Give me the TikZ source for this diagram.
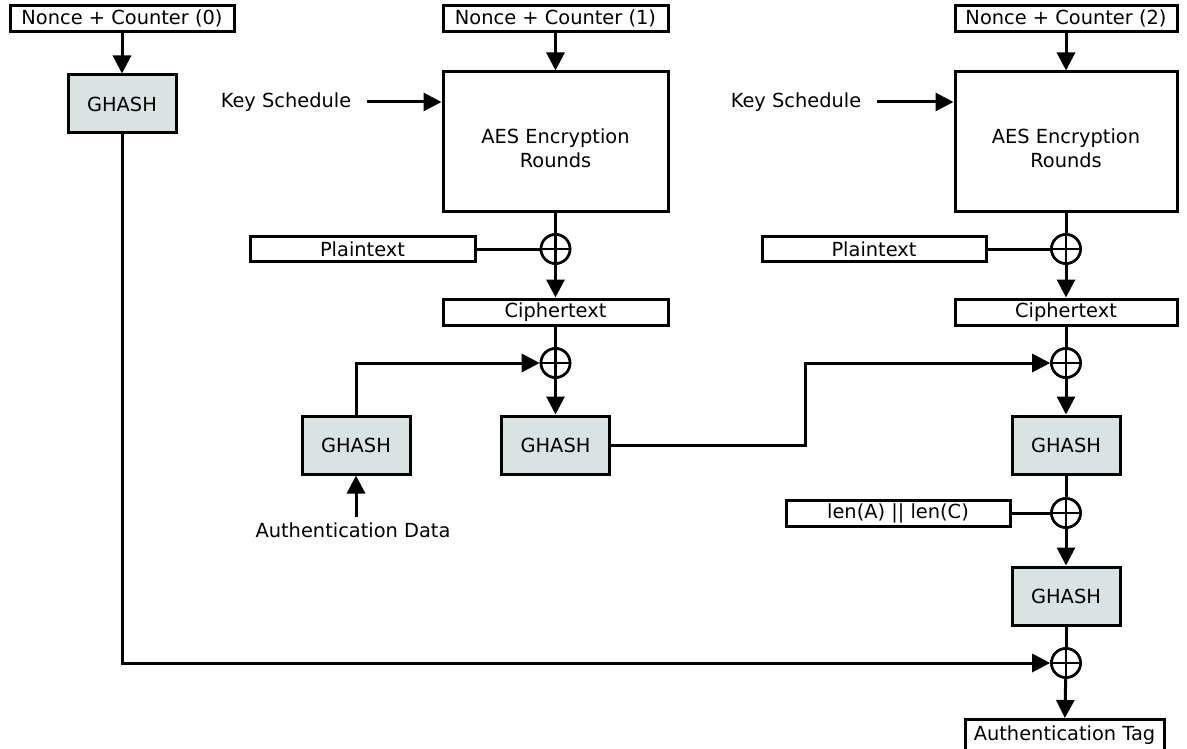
\documentclass[tikz,border=0pt]{standalone}
\usepackage{fontspec}
\setmainfont{DejaVu Sans}
\usetikzlibrary{arrows.meta}
\definecolor{ghfill}{RGB}{216,227,226}
\begin{document}
\begin{tikzpicture}[x=1pt,y=-1pt,
  font=\fontsize{19.4pt}{24pt}\selectfont,
  every node/.style={inner sep=0pt},
  box/.style={draw, line width=3pt, fill=white, minimum height=26pt},
  widebox/.style={box, minimum width=224pt},
  aesbox/.style={box, minimum width=225pt, minimum height=140pt,
    label={[align=center, yshift=-6pt]center:{AES Encryption\\Rounds}}},
  ghash/.style={draw, line width=3pt, fill=ghfill, minimum width=108pt, minimum height=58pt},
  xorop/.style={circle, draw, line width=2.6pt, minimum size=29pt, fill=white,
    path picture={\draw[line width=2.6pt] (path picture bounding box.north) -- (path picture bounding box.south)
      (path picture bounding box.west) -- (path picture bounding box.east);}},
  link/.style={line width=3pt},
  arr/.style={link, -{Triangle[length=18pt,width=18pt]}},
  lbl/.style={inner sep=2pt}
]
\useasboundingbox (0,0) rectangle (1187,749);

% ---------- counter 0: tag mask ----------
\node[widebox] (n0) at (122,18.5) {Nonce + Counter (0)};
\node[ghash] (gh0) at (122,104) {GHASH};

% ---------- counter 1 block ----------
\node[widebox, minimum width=225pt] (n1) at (555.5,18.5) {Nonce + Counter (1)};
\node[aesbox] (aes1) at (555.5,142) {};
\node[lbl] (ks1) at (286,102) {Key Schedule};
\node[xorop] (x1a) at (555.5,249) {};
\node[box, minimum width=225pt, minimum height=25pt] (pt1) at (362.5,249) {Plaintext};
\node[widebox, minimum width=225pt] (ct1) at (555.5,312) {Ciphertext};
\node[xorop] (x1b) at (555.5,363) {};
\node[ghash] (gha) at (356,445) {GHASH};
\node[ghash] (gh1) at (555.5,445) {GHASH};
\node[lbl] (ad) at (353,530) {Authentication Data};

% ---------- counter 2 block ----------
\node[widebox, minimum width=222pt] (n2) at (1066,18.5) {Nonce + Counter (2)};
\node[aesbox, minimum width=222pt] (aes2) at (1066,142) {};
\node[lbl] (ks2) at (796,102) {Key Schedule};
\node[xorop] (x2a) at (1066,249) {};
\node[box, minimum width=224pt, minimum height=25pt] (pt2) at (874,249) {Plaintext};
\node[widebox, minimum width=222pt] (ct2) at (1066,312) {Ciphertext};
\node[xorop] (x2b) at (1066,363) {};
\node[ghash] (gh2) at (1066,445) {GHASH};
\node[widebox] (len) at (898,513) {len(A) || len(C)};
\node[xorop] (x2c) at (1066,513) {};
\node[ghash] (gh3) at (1066,596) {GHASH};
\node[xorop] (x2d) at (1066,663) {};
\node[box, minimum width=199pt, minimum height=34pt, anchor=north] (tag) at (1064.5,718) {};
\node[lbl] at (1064.5,735) {Authentication Tag};

\coordinate (bend1) at (805,400);

% ---------- connectors ----------
\draw[arr] (n0) -- (gh0);
\draw[arr] (gh0) |- (x2d);

\draw[arr] (n1) -- (aes1);
\draw[arr, shorten <=14pt] (ks1) -- (ks1 -| aes1.west);
\draw[link] (aes1) -- (x1a);
\draw[link] (pt1) -- (x1a);
\draw[arr] (x1a) -- (ct1);
\draw[link] (ct1) -- (x1b);
\draw[arr] (gha) |- (x1b);
\draw[arr] (x1b) -- (gh1);
\draw[arr] (ad.north -| gha) ++(0,-3) -- (gha);
\draw[arr] (gh1.east) -- (gh1.east -| bend1) |- (x2b);

\draw[arr] (n2) -- (aes2);
\draw[arr, shorten <=14pt] (ks2) -- (ks2 -| aes2.west);
\draw[link] (aes2) -- (x2a);
\draw[link] (pt2) -- (x2a);
\draw[arr] (x2a) -- (ct2);
\draw[link] (ct2) -- (x2b);
\draw[arr] (x2b) -- (gh2);
\draw[link] (gh2) -- (x2c);
\draw[link] (len) -- (x2c);
\draw[arr] (x2c) -- (gh3);
\draw[link] (gh3) -- (x2d);
\draw[arr] (x2d) -- (tag);

% redraw the xor symbols over the lines
\foreach \x in {x1a,x1b,x2a,x2b,x2c,x2d} {
  \node[xorop] at (\x) {};
}
\end{tikzpicture}
\end{document}
